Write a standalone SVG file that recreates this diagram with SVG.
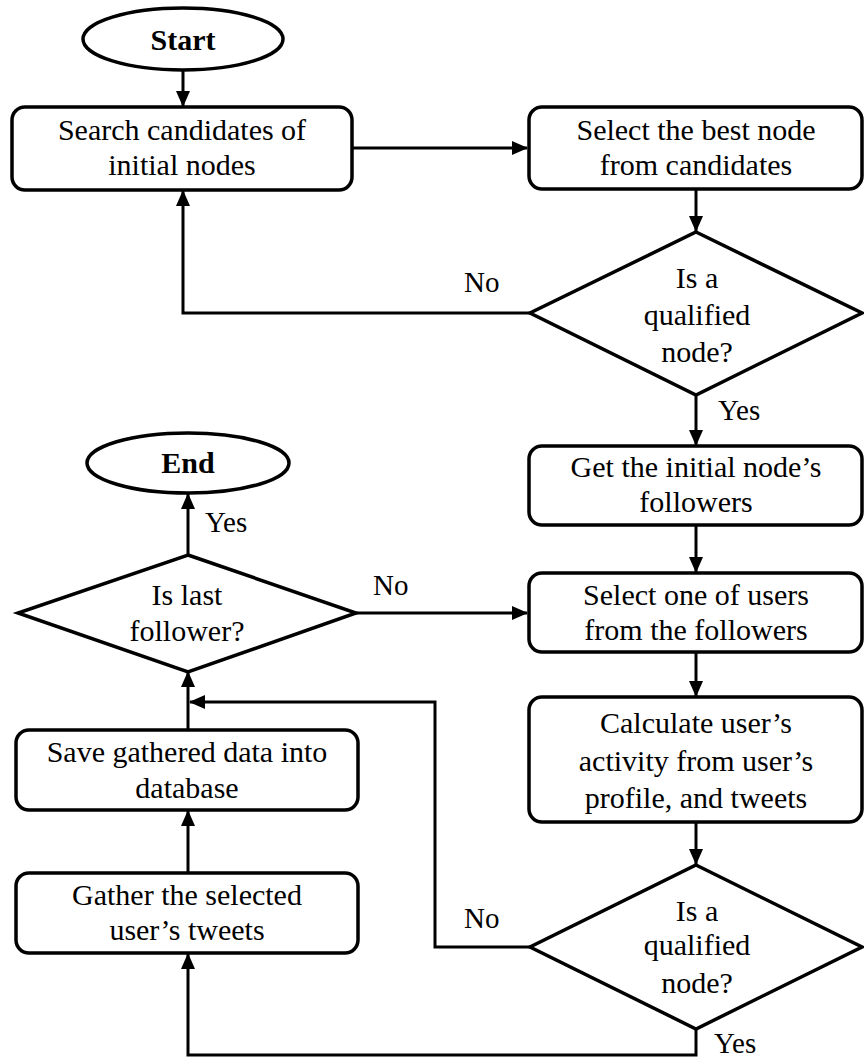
<svg xmlns="http://www.w3.org/2000/svg" width="864" height="1061" viewBox="0 0 864 1061" font-family="Liberation Serif, Tinos, Times New Roman, Noto Serif, DejaVu Serif, serif">
  <style>
    .shape { fill: #ffffff; stroke: #000000; stroke-width: 3.5; }
    .line { fill: none; stroke: #000000; stroke-width: 3; }
    .t { font-size: 30px; text-anchor: middle; fill: #000000; }
    .b { font-weight: bold; }
    .lbl { font-size: 29px; fill: #000000; }
  </style>
  <defs>
    <marker id="arrow" viewBox="0 0 16 14" refX="15" refY="7" markerWidth="16" markerHeight="14" markerUnits="userSpaceOnUse" orient="auto">
      <path d="M0,0 L16,7 L0,14 z" fill="#000000"/>
    </marker>
  </defs>
  <rect width="864" height="1061" fill="#ffffff"/>

  <!-- connectors -->
  <g id="connectors">
    <path class="line" d="M183 70 V106" marker-end="url(#arrow)"/>
    <path class="line" d="M352 148 H527" marker-end="url(#arrow)"/>
    <path class="line" d="M696 189 V231" marker-end="url(#arrow)"/>
    <path class="line" d="M530 313 H183 V191" marker-end="url(#arrow)"/>
    <path class="line" d="M696 395 V445" marker-end="url(#arrow)"/>
    <path class="line" d="M696 525 V572" marker-end="url(#arrow)"/>
    <path class="line" d="M356 613 H527" marker-end="url(#arrow)"/>
    <path class="line" d="M696 652 V696" marker-end="url(#arrow)"/>
    <path class="line" d="M696 822 V864" marker-end="url(#arrow)"/>
    <path class="line" d="M530 947 H435 V702 H190" marker-end="url(#arrow)"/>
    <path class="line" d="M696 1029 V1055 H188 V954" marker-end="url(#arrow)"/>
    <path class="line" d="M188 873 V811" marker-end="url(#arrow)"/>
    <path class="line" d="M188 730 V672" marker-end="url(#arrow)"/>
    <path class="line" d="M188 555 V494" marker-end="url(#arrow)"/>
    <text class="lbl" x="464" y="292">No</text>
    <text class="lbl" x="718" y="420">Yes</text>
    <text class="lbl" x="205" y="532">Yes</text>
    <text class="lbl" x="373" y="595">No</text>
    <text class="lbl" x="464" y="928">No</text>
    <text class="lbl" x="714" y="1053">Yes</text>
  </g>

  <g id="start">
    <ellipse class="shape" cx="183" cy="39" rx="100" ry="31"/>
    <text class="t b" x="183" y="50">Start</text>
  </g>

  <g id="search">
    <rect class="shape" x="12" y="107" width="340" height="83" rx="13"/>
    <text class="t" x="182" y="140">Search candidates of</text>
    <text class="t" x="182" y="175">initial nodes</text>
  </g>

  <g id="select-best">
    <rect class="shape" x="529" y="107" width="333" height="82" rx="13"/>
    <text class="t" x="696" y="140">Select the best node</text>
    <text class="t" x="696" y="175">from candidates</text>
  </g>

  <g id="qualified-1">
    <polygon class="shape" points="696,232 862,313 696,395 530,313"/>
    <text class="t" x="697" y="288">Is a</text>
    <text class="t" x="697" y="325">qualified</text>
    <text class="t" x="697" y="362">node?</text>
  </g>

  <g id="get-followers">
    <rect class="shape" x="529" y="446" width="333" height="79" rx="13"/>
    <text class="t" x="696" y="477">Get the initial node’s</text>
    <text class="t" x="696" y="512">followers</text>
  </g>

  <g id="select-user">
    <rect class="shape" x="529" y="573" width="333" height="79" rx="13"/>
    <text class="t" x="696" y="605">Select one of users</text>
    <text class="t" x="696" y="640">from the followers</text>
  </g>

  <g id="calculate">
    <rect class="shape" x="529" y="697" width="333" height="125" rx="13"/>
    <text class="t" x="696" y="733">Calculate user’s</text>
    <text class="t" x="696" y="771">activity from user’s</text>
    <text class="t" x="696" y="808">profile, and tweets</text>
  </g>

  <g id="qualified-2">
    <polygon class="shape" points="696,865 862,947 696,1029 530,947"/>
    <text class="t" x="697" y="921">Is a</text>
    <text class="t" x="697" y="955">qualified</text>
    <text class="t" x="697" y="993">node?</text>
  </g>

  <g id="gather">
    <rect class="shape" x="16" y="873" width="342" height="80" rx="13"/>
    <text class="t" x="187" y="905">Gather the selected</text>
    <text class="t" x="187" y="940">user’s tweets</text>
  </g>

  <g id="save">
    <rect class="shape" x="16" y="730" width="342" height="80" rx="13"/>
    <text class="t" x="187" y="762">Save gathered data into</text>
    <text class="t" x="187" y="798">database</text>
  </g>

  <g id="last-follower">
    <polygon class="shape" points="188,555 356,613 188,672 18,613"/>
    <text class="t" x="187" y="605">Is last</text>
    <text class="t" x="187" y="641">follower?</text>
  </g>

  <g id="end">
    <ellipse class="shape" cx="188" cy="463" rx="101" ry="30"/>
    <text class="t b" x="188" y="473">End</text>
  </g>
</svg>
